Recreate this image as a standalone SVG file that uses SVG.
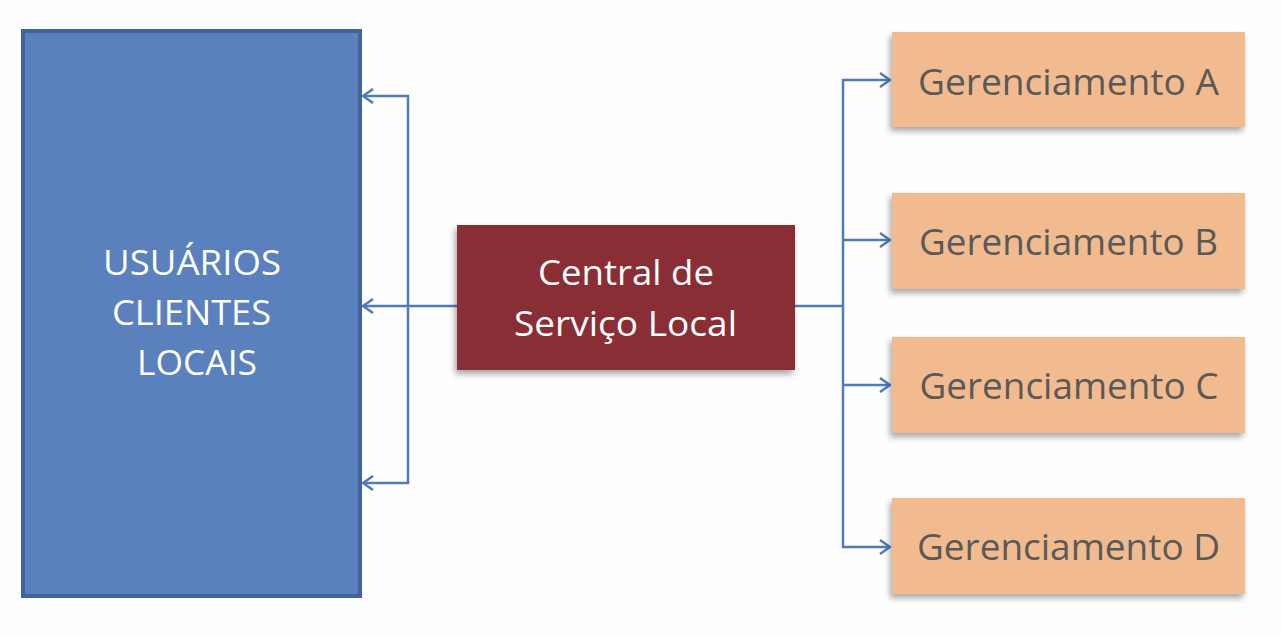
<svg xmlns="http://www.w3.org/2000/svg" width="1282" height="635" viewBox="0 0 1282 635">
<style>
.conn{fill:none;stroke:#4F7CB8;stroke-width:2.5}
.lt{font-family:"Open Sans","Liberation Sans",sans-serif;font-size:35px;fill:#FFFFFF;text-anchor:middle}
.gt{font-family:"Open Sans","Liberation Sans",sans-serif;font-size:36px;fill:#595959;text-anchor:middle}
.mg{fill:#F1BB8F}
</style>
<defs>
<filter id="sh" x="-10%" y="-10%" width="125%" height="130%">
<feDropShadow dx="-2" dy="4" stdDeviation="3" flood-color="#000" flood-opacity="0.35"/>
</filter>
<marker id="ah" viewBox="0 0 12 16" refX="11" refY="8" markerWidth="12" markerHeight="16" markerUnits="userSpaceOnUse" orient="auto">
<path d="M1,1 L11,8 L1,15" fill="none" stroke="#4F7CB8" stroke-width="2.5"/>
</marker>
</defs>
<rect width="1282" height="635" fill="#FEFEFF"/>
<g id="connectors">
<path class="conn" d="M457,306 H363" marker-end="url(#ah)"/>
<path class="conn" d="M408,306 V96 H363" marker-end="url(#ah)"/>
<path class="conn" d="M408,306 V483 H363" marker-end="url(#ah)"/>
<path class="conn" d="M795,306 H843"/>
<path class="conn" d="M843,306 V80 H890" marker-end="url(#ah)"/>
<path class="conn" d="M843,240 H890" marker-end="url(#ah)"/>
<path class="conn" d="M843,306 V547 H890" marker-end="url(#ah)"/>
<path class="conn" d="M843,385 H890" marker-end="url(#ah)"/>
</g>
<g id="usuarios">
<rect x="23" y="31" width="337" height="565" fill="#5A80BD" stroke="#41659A" stroke-width="4"/>
<text class="lt" x="192" y="275" textLength="178" lengthAdjust="spacingAndGlyphs">USUÁRIOS</text>
<text class="lt" x="191.5" y="325" textLength="159" lengthAdjust="spacingAndGlyphs">CLIENTES</text>
<text class="lt" x="197" y="375" textLength="120" lengthAdjust="spacingAndGlyphs">LOCAIS</text>
</g>
<g id="central">
<rect x="457" y="225" width="338" height="145" fill="#8A2D35" filter="url(#sh)"/>
<text class="lt" x="626" y="285" textLength="176" lengthAdjust="spacingAndGlyphs">Central de</text>
<text class="lt" x="625.5" y="336" textLength="223" lengthAdjust="spacingAndGlyphs">Serviço Local</text>
</g>
<g id="gerA">
<rect class="mg" x="892" y="32" width="353" height="95" filter="url(#sh)"/>
<text class="gt" x="1068.5" y="95" textLength="301" lengthAdjust="spacingAndGlyphs">Gerenciamento A</text>
</g>
<g id="gerB">
<rect class="mg" x="892" y="193" width="353" height="96" filter="url(#sh)"/>
<text class="gt" x="1068.5" y="255" textLength="299" lengthAdjust="spacingAndGlyphs">Gerenciamento B</text>
</g>
<g id="gerC">
<rect class="mg" x="892" y="337" width="353" height="96" filter="url(#sh)"/>
<text class="gt" x="1069" y="399" textLength="299" lengthAdjust="spacingAndGlyphs">Gerenciamento C</text>
</g>
<g id="gerD">
<rect class="mg" x="892" y="498" width="353" height="96" filter="url(#sh)"/>
<text class="gt" x="1068.5" y="560" textLength="303" lengthAdjust="spacingAndGlyphs">Gerenciamento D</text>
</g>
</svg>
